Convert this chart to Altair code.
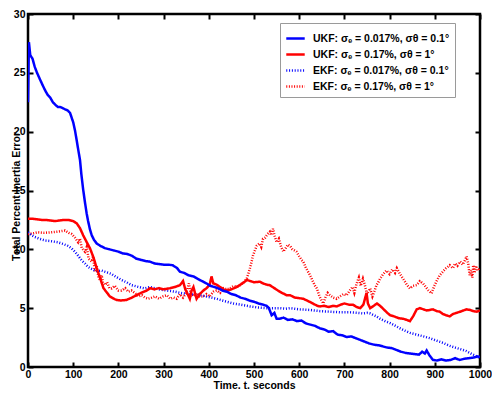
import altair as alt
import pandas as pd

S1 = "UKF: σₑ = 0.017%, σθ = 0.1°"
S2 = "UKF: σₑ = 0.17%, σθ = 1°"
S3 = "EKF: σₑ = 0.017%, σθ = 0.1°"
S4 = "EKF: σₑ = 0.17%, σθ = 1°"
series_names = [S1, S2, S3, S4]
series_colors = ["#0000ff", "#ff0000", "#0000ff", "#ff0000"]

ukf1_t = [0, 2, 5, 10, 15, 20, 27, 33, 38, 44, 49, 55, 60, 66, 71, 77, 82, 88, 93, 100,
          104, 108, 111, 115, 118, 122, 126, 130, 133, 137, 141, 146, 152, 160, 170, 180, 190, 200, 210, 220,
          230, 240, 250, 260, 270, 280, 290, 300, 310, 320, 330, 336, 345, 355, 366, 375, 385, 395, 403, 412,
          420, 430, 440, 450, 460, 470, 480, 490, 500, 510, 520, 528, 533, 539, 545, 550, 557, 565, 575, 585,
          595, 605, 615, 625, 635, 645, 655, 665, 675, 685, 695, 705, 715, 725, 735, 745, 755, 765, 775, 785,
          795, 805, 815, 825, 835, 845, 855, 865, 872, 878, 882, 888, 896, 905, 915, 925, 935, 945, 955, 965,
          975, 985, 995, 1000]
ukf1_v = [22.5, 27.6, 26.5, 26.2, 25.5, 25.0, 24.4, 23.9, 23.5, 23.1, 22.9, 22.5, 22.3, 22.1, 22.1, 22.0, 21.9, 21.8, 21.6, 20.8,
          20.1, 19.2, 18.5, 17.6, 16.4, 15.1, 14.0, 13.0, 12.4, 11.7, 11.2, 10.8, 10.5, 10.3, 10.1, 10.0, 9.9, 9.8, 9.65, 9.6,
          9.45, 9.2, 9.1, 9.0, 8.95, 8.8, 8.75, 8.7, 8.7, 8.65, 8.4, 8.1, 8.0, 7.8, 7.7, 7.5, 7.3, 7.1, 6.9, 6.8,
          6.7, 6.5, 6.4, 6.2, 6.1, 5.9, 5.8, 5.65, 5.55, 5.4, 5.3, 5.2, 5.0, 4.4, 4.6, 4.1, 4.1, 4.2, 4.0, 4.05,
          3.9, 3.95, 3.7, 3.6, 3.5, 3.3, 3.2, 3.0, 3.05, 2.75, 2.7, 2.55, 2.6, 2.45, 2.3, 2.15, 2.0, 1.9, 1.85, 1.75,
          1.65, 1.6, 1.45, 1.3, 1.2, 1.15, 1.1, 1.05, 1.3, 1.15, 1.4, 1.0, 0.6, 0.55, 0.65, 0.55, 0.6, 0.75, 0.6, 0.7,
          0.75, 0.8, 0.9, 0.85]

ukf2_t = [0, 10, 20, 30, 40, 50, 60, 70, 80, 90, 100, 108, 115, 122, 130, 137, 145, 152, 160, 167,
          175, 181, 190, 196, 205, 218, 230, 240, 250, 263, 270, 280, 290, 300, 314, 325, 336, 343, 348, 352,
          358, 362, 366, 370, 373, 380, 388, 395, 402, 406, 410, 417, 425, 432, 440, 450, 462, 470, 478, 484,
          492, 500, 513, 520, 528, 535, 545, 553, 562, 572, 580, 590, 600, 609, 620, 630, 640, 646, 655, 665,
          675, 683, 692, 700, 710, 719, 727, 735, 742, 749, 752, 757, 765, 772, 779, 787, 795, 801, 810, 820,
          830, 838, 845, 852, 860, 867, 875, 882, 889, 896, 904, 911, 918, 925, 933, 940, 948, 956, 963, 970,
          978, 985, 993, 1000]
ukf2_v = [12.6, 12.6, 12.55, 12.5, 12.5, 12.45, 12.4, 12.45, 12.5, 12.5, 12.4, 12.2, 11.8, 11.2, 10.6, 10.1, 9.3, 8.4, 7.5, 6.7,
          6.3, 6.0, 5.8, 5.7, 5.65, 5.7, 5.9, 6.1, 6.3, 6.5, 6.7, 6.6, 6.7, 6.6, 6.7, 6.8, 6.95, 7.3, 6.6, 6.3,
          5.8, 6.5, 6.8, 6.2, 5.8, 6.2, 6.5, 6.7, 7.0, 7.7, 7.1, 7.0, 6.8, 6.6, 6.5, 6.6, 6.8, 7.0, 7.2, 7.4,
          7.3, 7.2, 7.25, 7.1, 7.0, 6.95, 6.7, 6.5, 6.3, 6.1, 6.1, 5.9, 5.85, 5.8, 5.6, 5.4, 5.2, 5.15, 5.2, 5.1,
          5.2, 5.15, 5.3, 5.4, 5.3, 5.3, 5.1, 5.0, 5.3, 6.3, 5.4, 5.0, 5.2, 5.4, 5.2, 4.9, 4.6, 4.4, 4.3, 4.15,
          4.1, 4.0, 3.9, 4.3, 4.9, 5.0, 4.9, 4.8, 4.85, 4.9, 4.75, 4.7, 4.5, 4.4, 4.3, 4.5, 4.6, 4.7, 4.8, 4.9,
          4.85, 4.75, 4.7, 4.8]

ekf1_t = [0, 8, 15, 25, 38, 50, 66, 78, 88, 96, 104, 112, 119, 126, 133, 140, 148, 155, 163, 170,
          178, 185, 195, 207, 218, 229, 240, 250, 259, 270, 280, 290, 307, 325, 343, 360, 380, 400, 417, 435,
          454, 470, 491, 510, 528, 545, 557, 570, 580, 600, 624, 645, 668, 690, 712, 730, 741, 750, 757, 765,
          771, 779, 790, 800, 808, 820, 833, 845, 860, 875, 889, 903, 918, 933, 945, 958, 970, 982, 993, 1000]
ekf1_v = [11.45, 11.2, 11.05, 10.9, 10.75, 10.7, 10.6, 10.45, 10.3, 10.1, 9.8, 9.4, 9.05, 8.8, 8.5, 8.35, 8.2, 8.15, 8.2, 8.1,
          8.0, 7.9, 7.65, 7.4, 7.2, 6.96, 6.85, 6.75, 6.68, 6.8, 6.7, 6.6, 6.5, 6.4, 6.25, 6.2, 6.1, 5.95, 5.8, 5.6,
          5.4, 5.3, 5.15, 5.05, 5.0, 5.0, 5.0, 4.95, 5.0, 4.9, 4.85, 4.75, 4.7, 4.65, 4.65, 4.6, 4.55, 4.6, 4.55, 4.4,
          4.3, 4.1, 3.9, 3.75, 3.6, 3.35, 3.1, 2.9, 2.75, 2.6, 2.45, 2.25, 2.05, 1.8, 1.65, 1.5, 1.35, 1.1, 0.9, 0.75]

ekf2_t = [0, 10, 22, 35, 52, 65, 82, 90, 97, 104, 111, 115, 119, 126, 130, 134, 141, 144, 148, 152,
          156, 159, 163, 166, 170, 175, 180, 185, 192, 200, 207, 215, 222, 229, 236, 244, 252, 259, 266, 274,
          281, 290, 299, 307, 315, 322, 329, 336, 343, 350, 356, 360, 365, 372, 380, 388, 395, 402, 410, 417,
          425, 432, 440, 447, 455, 462, 469, 477, 484, 488, 491, 495, 498, 502, 506, 512, 516, 520, 525, 530,
          535, 538, 542, 546, 550, 555, 560, 565, 570, 575, 580, 585, 590, 594, 600, 605, 609, 614, 618, 624,
          630, 635, 639, 645, 649, 653, 658, 663, 668, 675, 683, 690, 698, 705, 712, 718, 722, 727, 732, 736,
          741, 745, 750, 757, 762, 766, 771, 775, 779, 786, 793, 800, 806, 812, 816, 823, 830, 838, 845, 852,
          860, 867, 874, 880, 886, 893, 898, 904, 911, 918, 925, 933, 940, 945, 950, 956, 962, 967, 970, 974,
          977, 980, 983, 985, 988, 991, 995, 1000]
ekf2_v = [11.3, 11.35, 11.45, 11.4, 11.45, 11.5, 11.6, 11.4, 11.3, 11.0, 10.6, 10.9, 10.1, 9.8, 10.2, 9.2, 8.96, 9.4, 8.1, 8.6,
          7.6, 7.4, 7.8, 7.1, 6.96, 7.2, 6.7, 6.68, 6.9, 6.5, 6.5, 6.7, 6.4, 6.5, 6.3, 6.0, 6.1, 5.9, 5.8, 5.9,
          6.0, 5.8, 6.0, 6.1, 5.8, 5.9, 5.8, 6.2, 5.9, 6.3, 7.1, 6.2, 6.0, 6.3, 6.0, 6.0, 6.2, 6.0, 6.4, 6.5,
          6.3, 6.7, 6.6, 6.68, 6.9, 6.8, 6.96, 7.2, 7.5, 8.0, 8.4, 9.0, 9.5, 9.9, 10.3, 10.5, 10.2, 10.9, 11.0, 11.3,
          11.5, 11.2, 11.75, 11.1, 10.6, 10.9, 10.2, 9.8, 10.1, 10.4, 10.3, 10.0, 9.9, 9.8, 9.4, 9.1, 8.96, 8.5, 8.2, 7.8,
          7.3, 6.9, 6.68, 6.0, 5.7, 5.4, 5.9, 6.3, 6.1, 5.9, 5.8, 6.0, 6.2, 6.1, 6.5, 6.8, 6.3, 7.1, 7.6, 6.9,
          7.5, 7.0, 6.2, 6.68, 6.0, 6.4, 6.96, 7.2, 7.5, 7.9, 8.2, 7.9, 8.3, 8.0, 8.4, 7.9, 7.5, 7.0, 6.68, 6.9,
          6.96, 7.3, 7.1, 6.8, 6.5, 6.25, 6.8, 7.3, 7.8, 8.1, 8.4, 8.65, 8.4, 8.8, 8.6, 8.96, 8.7, 9.1, 9.4, 8.8,
          7.8, 8.2, 7.6, 8.65, 8.0, 8.6, 8.2, 8.4]

x_ticks = [0, 100, 200, 300, 400, 500, 600, 700, 800, 900, 1000]
y_ticks = [0, 5, 10, 15, 20, 25, 30]

rows = []
# draw order: dotted EKF first, then solid UKF on top
for name, ts, vs in [(S4, ekf2_t, ekf2_v), (S3, ekf1_t, ekf1_v), (S2, ukf2_t, ukf2_v), (S1, ukf1_t, ukf1_v)]:
    for t, v in zip(ts, vs):
        rows.append({"series": name, "t": t, "v": v})
df = pd.DataFrame(rows)

FONT = "Liberation Sans"

xscale = alt.Scale(domain=[0, 1000], nice=False, zero=False)
yscale = alt.Scale(domain=[0, 30], nice=False)

base = alt.Chart(df)

lines = base.mark_line(clip=True).encode(
    x=alt.X("t:Q", scale=xscale,
            axis=alt.Axis(values=x_ticks, format="d", title="Time, t, seconds", orient="bottom", offset=-5,
                          tickSize=5, tickWidth=2, tickColor="black", domain=False, grid=False,
                          labelFont=FONT, labelFontSize=10.5, labelFontWeight="bold", labelColor="black",
                          labelPadding=2, labelFlush=False,
                          titleFont=FONT, titleFontSize=10.5, titleFontWeight="bold", titleColor="black",
                          titleY=26, titleBaseline="alphabetic")),
    y=alt.Y("v:Q", scale=yscale,
            axis=alt.Axis(values=y_ticks, title="Total Percent Inertia Error", orient="left", offset=-5,
                          tickSize=5, tickWidth=2, tickColor="black", domain=False, grid=False,
                          labelFont=FONT, labelFontSize=10.5, labelFontWeight="bold", labelColor="black",
                          labelPadding=3, labelFlush=False,
                          titleFont=FONT, titleFontSize=10.5, titleFontWeight="bold", titleColor="black",
                          titleX=-14, titleY=182, titleBaseline="alphabetic", titleAngle=270)),
    color=alt.Color("series:N", title=None,
                    scale=alt.Scale(domain=series_names, range=series_colors),
                    legend=alt.Legend(orient="none", legendX=252, legendY=9, padding=5,
                                      strokeColor="#9a9a9a", fillColor="white",
                                      symbolType="stroke", symbolSize=340,
                                      labelFont=FONT, labelFontSize=10.5, labelFontWeight="bold",
                                      labelColor="black", labelOffset=7, rowPadding=-4, labelLimit=300)),
    strokeDash=alt.StrokeDash("series:N", title=None,
                              scale=alt.Scale(domain=series_names,
                                              range=[[1, 0], [1, 0], [1, 1.8], [1, 1.6]])),
    strokeWidth=alt.StrokeWidth("series:N", title=None,
                                scale=alt.Scale(domain=series_names, range=[2.5, 2.5, 0.9, 1])),
)

frame_axes = base.mark_line(opacity=0).encode(
    x=alt.X("t:Q", scale=xscale,
            axis=alt.Axis(values=x_ticks, orient="top", offset=-5, tickSize=5, tickWidth=2,
                          tickColor="black", labels=False, domain=False, grid=False, title="")),
    y=alt.Y("v:Q", scale=yscale,
            axis=alt.Axis(values=y_ticks, orient="right", offset=-5, tickSize=5, tickWidth=2,
                          tickColor="black", labels=False, domain=False, grid=False, title="")),
)

chart = alt.layer(frame_axes, lines).resolve_axis(x="independent", y="independent").properties(
    width=452, height=353,
    autosize=alt.AutoSizeParams(type="none"),
    padding={"left": 20, "top": 6, "right": 12, "bottom": 22},
    background="white",
).configure_view(stroke="black", strokeWidth=2.5)

chart.save("out.html", embed_options={"renderer": "svg", "actions": False})
